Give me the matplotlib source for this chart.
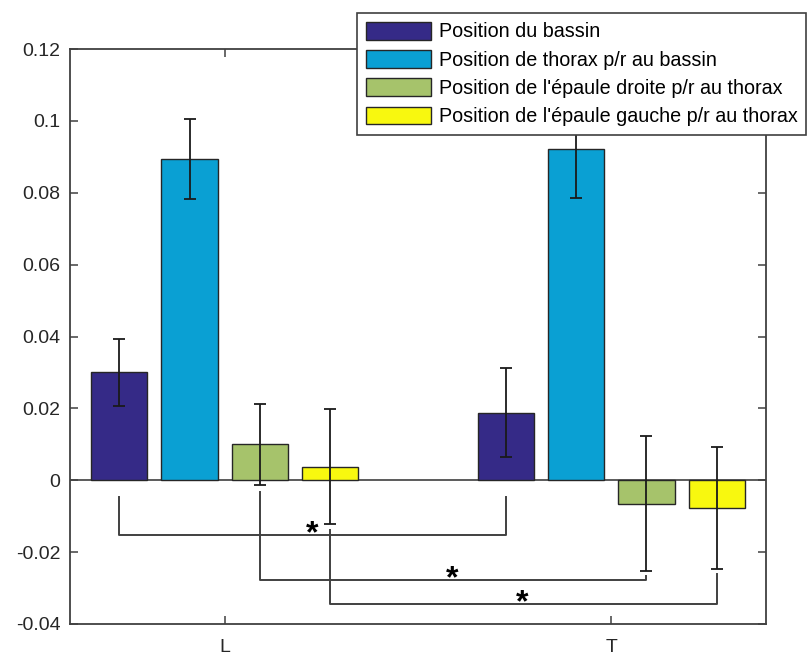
import numpy as np
import matplotlib
matplotlib.use("Agg")
import matplotlib.pyplot as plt

plt.rcParams['font.family'] = ['Liberation Sans', 'DejaVu Sans']
plt.rcParams['axes.unicode_minus'] = False

groups = ['L', 'T']
series = ['Position du bassin',
          'Position de thorax p/r au bassin',
          "Position de l'épaule droite p/r au thorax",
          "Position de l'épaule gauche p/r au thorax"]
means = {
    'L': [0.0300, 0.0895, 0.0100, 0.0038],
    'T': [0.0188, 0.0922, -0.0065, -0.0078],
}
errors = {
    'L': [0.0094, 0.0111, 0.0113, 0.0159],
    'T': [0.0124, 0.0136, 0.0187, 0.0170],
}
colors = ['#352a87', '#0aa0d3', '#a6c36b', '#f8f80f']

# significance brackets: (series index, y start L, y start T, y bottom, star x, star y)
brackets = [
    (0, -0.0047, -0.0047, -0.0153, 1.227, -0.0150),
    (2, -0.0034, -0.0267, -0.0278, 1.589, -0.0275),
    (3, -0.0139, -0.0261, -0.0344, 1.770, -0.0341),
]

fig = plt.figure(figsize=(8.1, 6.55), dpi=100)
ax = fig.add_axes([70 / 810, 1 - 624 / 655, 696 / 810, 575 / 655])

x = np.arange(1, len(groups) + 1)
step = 0.8 / 4.4
offsets = (np.arange(4) - 1.5) * step
width = step * 0.8

for i, name in enumerate(series):
    vals = [means[g][i] for g in groups]
    errs = [errors[g][i] for g in groups]
    ax.bar(x + offsets[i], vals, width, color=colors[i], edgecolor='#262626',
           linewidth=1.0, label=name, zorder=2)
    ax.errorbar(x + offsets[i], vals, yerr=errs, fmt='none', ecolor='#1a1a1a',
                elinewidth=1.3, capsize=4, capthick=1.3, zorder=3)

ax.axhline(0, color='#404040', linewidth=1.2, zorder=1)

for i, yl, yt, yb, sx, sy in brackets:
    xl = x[0] + offsets[i]
    xr = x[1] + offsets[i]
    ax.plot([xl, xl, xr, xr], [yl, yb, yb, yt], color='#404040',
            linewidth=1.4, zorder=3)
    ax.text(sx, sy, '*', fontsize=23, fontweight='bold', ha='center',
            va='center', color='black', zorder=4)

ax.set_xlim(0.6, 2.4)
ax.set_ylim(-0.04, 0.12)
ax.set_xticks(x)
ax.set_xticklabels(groups)
ax.set_yticks(np.arange(-0.04, 0.121, 0.02))
ax.set_yticklabels(['-0.04', '-0.02', '0', '0.02', '0.04', '0.06', '0.08', '0.1', '0.12'])
ax.tick_params(direction='in', length=6, width=1.1, color='#404040',
               labelsize=14, labelcolor='#262626', top=True, right=True)
ax.tick_params(axis='x', pad=11)
ax.tick_params(axis='y', pad=7)
for sp in ax.spines.values():
    sp.set_color('#404040')
    sp.set_linewidth(1.3)

leg = ax.legend(loc='upper left', bbox_to_anchor=(357 / 810, 1 - 13 / 655),
                bbox_transform=fig.transFigure, borderaxespad=0, fontsize=14.2,
                handlelength=3.3, handleheight=1.0, handletextpad=0.4,
                labelspacing=0.44, borderpad=0.45, fancybox=False,
                framealpha=1, edgecolor='#404040')
leg.get_frame().set_linewidth(1.2)
leg.set_zorder(10)

fig.savefig('out.png', dpi=100)
